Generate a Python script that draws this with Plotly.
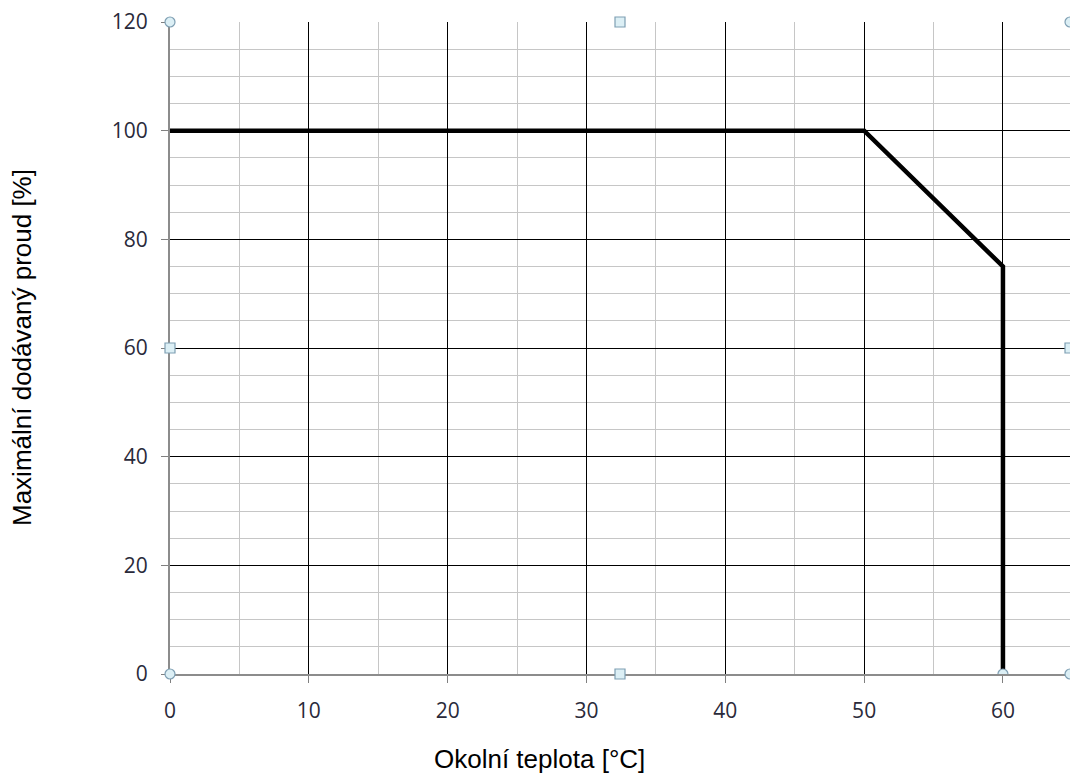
import plotly.graph_objects as go

# Data: derating curve
temp = [0, 50, 60, 60]
current = [100, 100, 75, 0]

x_ticks = [0, 10, 20, 30, 40, 50, 60]
y_ticks = [0, 20, 40, 60, 80, 100, 120]

fig = go.Figure()
fig.add_trace(go.Scatter(x=temp, y=current, mode="lines",
                         line=dict(color="#000000", width=4.5),
                         hoverinfo="skip", showlegend=False))

tick_font = dict(family="Open Sans, Lato, sans-serif", size=21, color="#2a2a3a")

fig.update_xaxes(range=[0, 64.83], tickvals=x_ticks, ticktext=[str(v) for v in x_ticks],
                 showgrid=True, gridcolor="#000000", gridwidth=1,
                 minor=dict(dtick=5, showgrid=True, gridcolor="#c6c6c6", gridwidth=1, ticks=""),
                 ticks="outside", ticklen=7, tickcolor="#808080",
                 showline=True, linecolor="#8c8c8c", linewidth=2,
                 zeroline=False, tickfont=tick_font, ticklabelstandoff=10, fixedrange=True)
fig.update_yaxes(range=[0, 120], tickvals=y_ticks, ticktext=[str(v) for v in y_ticks],
                 showgrid=True, gridcolor="#000000", gridwidth=1,
                 minor=dict(dtick=5, showgrid=True, gridcolor="#c6c6c6", gridwidth=1, ticks=""),
                 ticks="outside", ticklen=7, tickcolor="#808080",
                 showline=True, linecolor="#8c8c8c", linewidth=2,
                 zeroline=False, tickfont=tick_font, ticklabelstandoff=9, fixedrange=True)

title_font = dict(family="Liberation Sans, Arial, sans-serif", size=26, color="#000000")
annotations = [
    dict(text="Okolní teplota [°C]", xref="paper", yref="paper", x=0.411, y=0,
         yshift=-85, xanchor="center", yanchor="middle", showarrow=False, font=title_font),
    dict(text="Maximální dodávaný proud [%]", xref="paper", yref="paper", x=0, y=0.5,
         xshift=-148, xanchor="center", yanchor="middle", textangle=-90,
         showarrow=False, font=title_font),
]

# selection handles (decoration)
shapes = []
def handle(x, y, kind, xref="paper", yref="paper"):
    shapes.append(dict(type="circle" if kind == "c" else "rect",
                       xref=xref, yref=yref, xsizemode="pixel", ysizemode="pixel",
                       xanchor=x, yanchor=y, x0=-5, x1=5, y0=-5, y1=5,
                       fillcolor="#dceff5", line=dict(color="#7f9fb3", width=1.2)))

handle(0, 1, "c")
handle(0, 0, "c")
handle(1, 0, "c")
handle(1, 1, "c")
handle(0.5, 1, "r")
handle(0.5, 0, "r")
handle(0, 0.5, "r")
handle(1, 0.5, "r")
handle(temp[-1], current[-1], "c", xref="x", yref="y")

fig.update_layout(width=1070, height=774,
                  margin=dict(l=170, r=0, t=22, b=100),
                  plot_bgcolor="#ffffff", paper_bgcolor="#ffffff",
                  annotations=annotations, shapes=shapes, showlegend=False)

fig.write_html("out.html", config={"displayModeBar": False},
               post_script="document.body.style.margin='0px';")
